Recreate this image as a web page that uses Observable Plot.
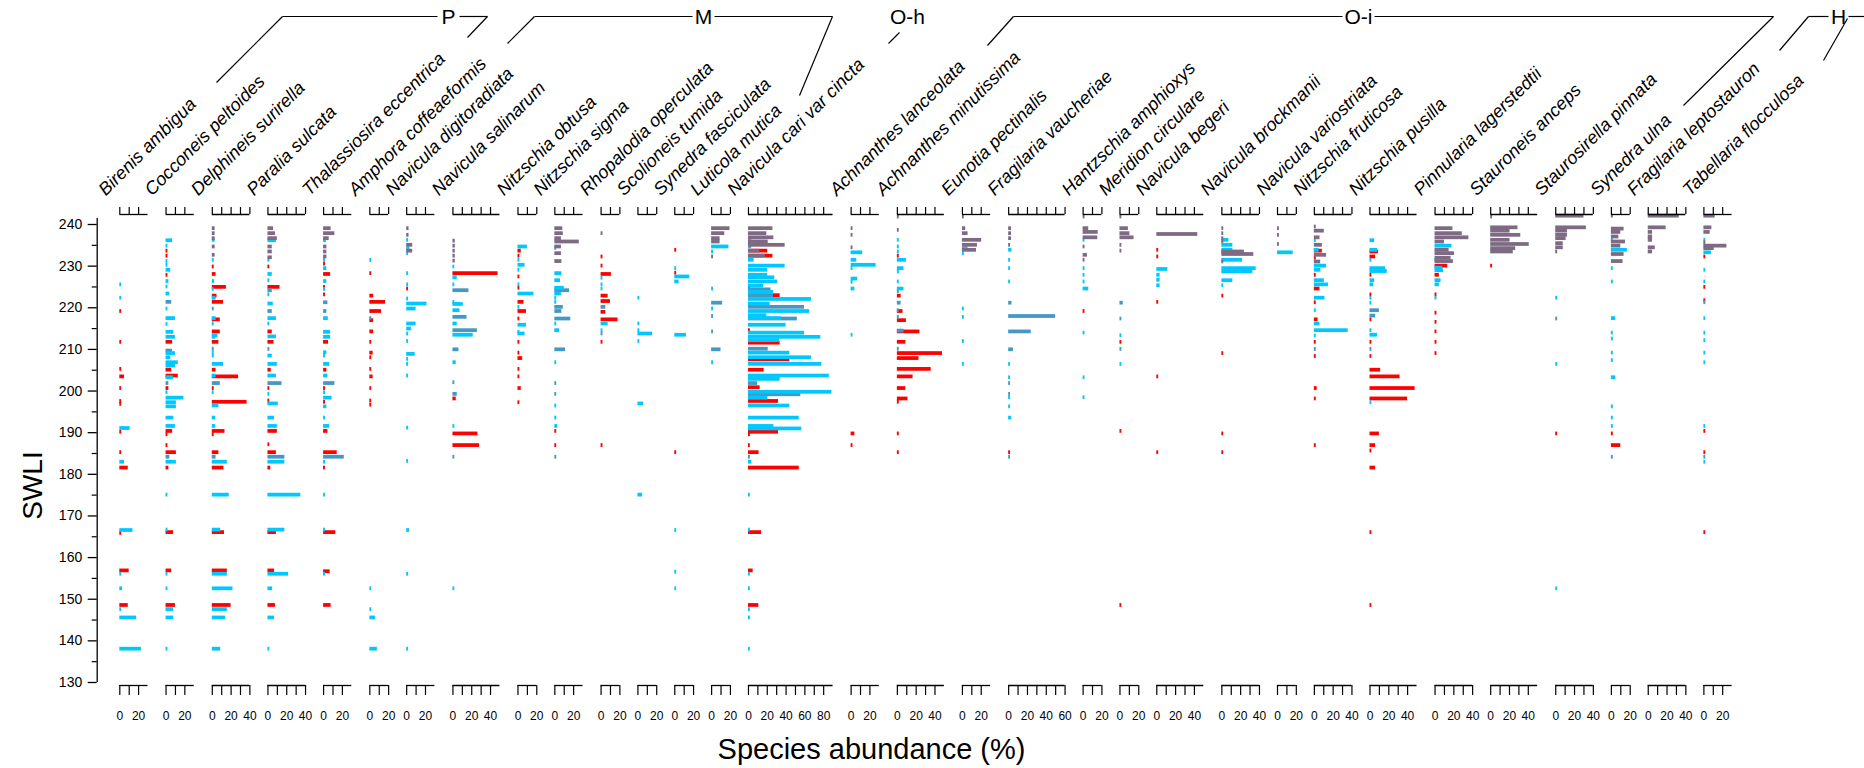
<!DOCTYPE html>
<html><head><meta charset="utf-8">
<script src="https://cdn.jsdelivr.net/npm/d3@7"></script>
<script src="https://cdn.jsdelivr.net/npm/@observablehq/plot@0.6"></script>
<style>body{margin:0;background:#fff}#chart{width:1864px;height:768px;overflow:hidden}</style>
</head><body><div id="chart"></div>
<script>
const species = ["Birenis ambigua","Cocconeis peltoides","Delphineis surirella","Paralia sulcata","Thalassiosira eccentrica","Amphora coffeaeformis","Navicula digitoradiata","Navicula salinarum","Nitzschia obtusa","Nitzschia sigma","Rhopalodia operculata","Scolioneis tumida","Synedra fasciculata","Luticola mutica","Navicula cari var cincta","Achnanthes lanceolata","Achnanthes minutissima","Eunotia pectinalis","Fragilaria vaucheriae","Hantzschia amphioxys","Meridion circulare","Navicula begeri","Navicula brockmanii","Navicula variostriata","Nitzschia fruticosa","Nitzschia pusilla","Pinnularia lagerstedtii","Stauroneis anceps","Staurosirella pinnata","Synedra ulna","Fragilaria leptostauron","Tabellaria flocculosa"];
const axisMax = [30,30,40,40,30,20,30,50,20,30,20,20,20,20,90,30,50,30,60,20,20,50,40,20,40,50,40,50,40,20,40,30];
const swliTicks = [130,140,150,160,170,180,190,200,210,220,230,240];
const groups = ["P","M","O-h","O-i","H"];

// [species index, [[SWLI, abundance %], ...]]
const redBars = [
 [0,[[219.1,2],[211.7,2],[205.2,2],[203.4,5],[200.6,2],[197.5,2],[196.8,2],[190.1,2],[185.2,2],[181.5,9],[165.8,2],[156.8,10],[148.5,9]]],
 [1,[[233.6,2],[232.4,2],[227.8,2],[211.7,7],[205,6],[203.6,13],[200.6,3],[190.3,7],[189.5,2],[186.9,2],[185.2,11],[181.5,3],[166,8],[156.8,6],[148.5,10]]],
 [2,[[229.8,2],[228,4],[224.9,15],[222.8,5],[221.3,12],[217.1,8.5],[214.2,8.5],[211.7,7],[205,4],[203.4,28],[200.6,2],[197.3,37],[190.3,13.5],[189.5,2],[185.2,7],[181.5,12.4],[166,13],[156.8,16],[148.5,20]]],
 [3,[[229.8,2],[224.9,12.8],[214.2,4.6],[211.7,6.4],[205,3.5],[200.6,2],[197.6,2],[190.3,10],[187.1,2],[185.2,9],[181.5,3],[166,9],[156.8,7],[148.5,8]]],
 [4,[[230.5,2],[228,7.5],[224.9,2],[223.1,2],[211.7,5.3],[205,3.5],[200.6,2],[197.3,2],[190.3,4.6],[185.2,14.5],[181.5,2],[166,13],[156.6,7],[148.5,8]]],
 [5,[[228.2,2],[222.8,4],[221.3,16.7],[219.1,12.4],[216.9,4],[214.2,4],[211.7,2],[209.1,3.5],[208,2],[205.2,2],[203.4,3.5],[200.6,2],[197.6,2],[196.6,2]]],
 [6,[[224.5,2]]],
 [7,[[228.2,48],[198.1,3.5],[189.7,26.6],[186.9,28.4]]],
 [8,[[233.6,3.5],[232.4,2],[227.4,2],[224.7,2],[221.3,6.4],[219.1,9],[217.3,2],[211.7,2],[209.1,2],[207.8,5],[205.2,2],[203.4,2],[200.6,3.5],[197.2,2]]],
 [9,[[190.3,2],[186.9,2]]],
 [10,[[232.2,2],[230,2],[228,11],[222.8,7.5],[221.5,10],[218.9,5],[217.1,18],[211.7,2],[186.9,2]]],
 [12,[[233.8,2],[228.3,2],[185.2,2]]],
 [14,[[233.6,20.5],[232.4,26],[224.7,2],[222.9,33.7],[214.5,2],[211.5,33.7],[207.5,44],[205,16.7],[200.8,12.4],[197.5,32],[190.1,32],[189.5,2],[186.9,2],[185.2,11.3],[181.5,54],[166,14],[156.8,5],[148.5,11]]],
 [15,[[189.7,4],[186.9,2]]],
 [16,[[232.4,2],[222.8,4],[219.1,6],[216.9,9.6],[214.2,24],[211.7,9],[209,48],[207.8,23],[205.2,36],[203.4,16.7],[200.6,9],[198.1,11.3],[197.3,2],[189.7,2],[185.2,2]]],
 [18,[[185.2,2]]],
 [19,[[219.1,2]]],
 [20,[[211.7,2],[190.3,2],[148.5,2]]],
 [21,[[233.8,2],[232.2,2],[221.3,2],[203.4,2],[185.2,2]]],
 [22,[[222.8,2],[209,2],[189.7,2],[185.2,2]]],
 [24,[[233.6,8.5],[231.9,2],[227.8,2],[224.5,6],[221.2,2],[217.1,4],[211.7,2],[208.3,2],[200.6,3],[198.1,2],[186.9,2]]],
 [25,[[233.4,9],[232.2,6],[227.8,2],[223.1,2],[217.1,2],[211.7,2],[208.3,2],[205,11.3],[203.4,32],[200.6,48],[198.1,40],[189.7,10],[186.9,6],[185.6,2],[181.5,6],[166,2],[148.5,2]]],
 [26,[[230,13.5],[227.8,4.6],[223.1,2],[218.7,2],[216.5,2],[214.2,2],[211.7,2],[209,2]]],
 [27,[[230,2]]],
 [28,[[189.7,2]]],
 [29,[[189.7,2],[186.9,10]]],
 [31,[[232.2,2],[224.9,2],[221.7,2],[190.3,2],[185.2,2],[166,2]]]
];
const cyanBars = [
 [0,[[225.5,2],[222.3,2],[191,11],[182.9,5],[166.5,14],[156,2],[152.5,3],[147.5,2],[145.5,18],[138,23]]],
 [1,[[236.1,7],[234.8,2],[231.1,2],[230.2,2],[229,5],[226.3,3],[225,2],[223.3,4],[219.7,2],[217.4,10],[216,2],[214.1,8],[212.9,10],[209,10],[208,5],[206.8,13],[206,10],[203.2,8],[199.6,2],[198.3,19],[197.2,11],[196.2,11],[193.5,8],[191.5,10],[182.9,11],[175,2],[166.6,2],[156,2],[152.5,2],[147.5,8],[145.5,8],[138,2]]],
 [2,[[236.2,3],[231.4,2],[226.3,2.5],[224.4,2],[222.3,4],[217.4,4],[216.1,2],[213.3,6],[212.9,4],[209.2,2],[208.4,2],[206.4,12],[203.6,4],[199.6,2],[196.4,7],[193.5,3.5],[191.5,3.5],[182.9,16],[175,18],[166.6,9],[156,16],[152.5,22],[147.5,16],[145.5,14],[138,9]]],
 [3,[[236.1,9],[231.4,2],[228,4.6],[226.5,2],[223.1,2],[220.9,5.7],[217.4,9],[216.1,2],[213,9],[208.4,4.6],[206.4,10],[203.6,9],[199.2,2],[196.9,11],[193.5,7],[191.5,10],[182.9,18],[175,35],[166.6,18],[156,22],[152.5,5],[145.5,7],[138,2]]],
 [4,[[236.1,3],[231.4,2],[229.4,3.5],[226.3,3.5],[224.4,2],[217.4,5],[214.1,7.5],[212.9,7.5],[209.2,3.5],[208.4,2],[206.4,6.4],[203.6,4.6],[199.6,2],[198.3,9],[196.2,3.5],[193.5,2],[191.5,6.4],[182.9,2],[175,2],[166.6,2],[156,2]]],
 [5,[[231.4,2],[152.5,2],[147.5,2],[145.5,6],[138,8]]],
 [6,[[236.2,2],[234.2,3.5],[233,2],[228.2,2],[225.5,2],[222.1,2],[220.9,21.6],[219.7,10],[216.1,10],[214.9,5],[213.7,2],[211.9,2],[208.8,9],[207.6,2],[206.4,2],[203.6,2],[191.1,2],[183.1,2],[166.5,3],[156,2],[138,2]]],
 [7,[[229.8,2],[227.2,4.6],[225.5,2],[221.3,2],[220.8,11],[219.3,7.5],[216.1,4.6],[213.4,21.6],[206.8,3.5],[191.5,2],[152.5,2]]],
 [8,[[234.6,10],[231.4,2],[230.2,7.5],[229,2],[225.5,2],[223.3,17],[220.1,2],[215.8,9],[214.1,2],[213.7,7.5]]],
 [9,[[234.2,2],[228.2,7.5],[226.5,6],[224.7,10],[223.3,7],[222.3,2],[221.3,2],[216.1,2],[214.5,5],[206.8,2],[196.4,2],[193.5,2],[191.5,3]]],
 [10,[[227.1,2],[225.5,2],[224.5,2],[216.1,7.5],[214.5,2]]],
 [11,[[222.3,2],[216.1,2],[214.5,2],[213.7,15.6],[211.9,2],[196.9,6],[175,5]]],
 [12,[[229.4,2],[227.4,16],[226.2,4.6],[213.4,12.4],[166.5,2],[156.5,2],[152.5,2]]],
 [13,[[234.6,18.4],[233.4,2],[224.5,2],[219.7,2],[206.8,2]]],
 [14,[[236.2,3.5],[234.6,3.5],[231.4,6],[230,39],[229,20.5],[227.8,20.5],[227.2,28],[226.2,31],[225.2,16],[223.7,26.6],[222,67],[220.9,23],[219.1,65],[218.1,19.5],[217.4,35],[215.8,40],[213.9,59.6],[212.9,77],[212.1,33],[209.1,44],[208,67],[206.4,78],[203.6,86],[202.8,33.7],[199.7,88.7],[198.3,20.6],[196.4,44],[193.5,54],[191.5,27],[190.9,56.7],[182.9,3.5],[175,2],[166.6,2],[156,2],[152.5,2],[147.5,2],[145.5,2],[138,2]]],
 [15,[[233.2,12.4],[231.4,6],[230.2,26.6],[229.4,2],[226.9,7],[226.1,2],[224.5,4],[213.4,2]]],
 [16,[[236.2,2],[234.6,2],[233.4,2],[231.4,9.6],[229.4,7],[228.6,2],[226.2,2],[224.5,7]]],
 [17,[[234.2,6],[233,2],[219.7,2],[217.7,2],[211.9,2],[206.4,2]]],
 [18,[[233.8,3.5],[231.4,2],[229.4,2],[226.2,2],[206.4,2],[203.2,2],[198.4,2],[196.2,2],[193.5,3]]],
 [19,[[236.2,2],[229.4,2],[227.8,2],[226.2,2],[224.5,6],[213.9,2],[203.2,2],[198.4,2]]],
 [20,[[213.3,2],[206.4,2]]],
 [21,[[229.2,11.7],[227.8,3.5],[226.6,3.5],[225.3,3.5]]],
 [22,[[236.2,7.5],[235,11.7],[233.8,11.7],[231.4,22],[229.4,36.5],[228.6,33],[226.5,11.7],[225.3,2]]],
 [23,[[233.2,16.7]]],
 [24,[[236.1,2],[233.8,5],[230,13],[229,7],[226.5,10.6],[225.5,15],[222.3,11.3],[219.3,2],[216.1,6],[214.5,36],[213.2,2]]],
 [25,[[236.1,5],[233.8,8],[231.4,2],[229.4,16.7],[228.7,18.4],[226.5,5],[225.5,4],[222.3,2],[221.1,2],[214.5,2],[213.4,8],[197.2,2]]],
 [26,[[234.8,18],[231.4,2],[229.5,8],[228.9,9],[226.5,6.4],[225.5,4.6],[222.3,2]]],
 [28,[[222.3,2],[206.4,2],[152.5,2]]],
 [29,[[236.2,2],[233.8,17],[229.4,2],[226.2,2],[217.4,4.6],[213.9,2],[212.5,2],[209.1,2],[207.3,2],[203.2,4.6],[196.2,2],[193.5,2],[191.5,2]]],
 [31,[[236.2,2],[233.2,8],[229,2],[226.2,2],[217.4,2],[213.9,2],[212.1,2],[209.1,2],[206.8,2],[191.5,2],[182.9,2]]]
];
const blueBars = [
 [1,[[221.3,6],[209.6,7],[201.8,3],[184.1,4]]],
 [2,[[219.7,2],[210.05,2],[201.8,8.5],[184.1,4]]],
 [3,[[224.1,4.6],[219.1,4.6],[210,2],[201.8,15],[184.1,18]]],
 [4,[[221.2,4.6],[219.1,3.5],[201.8,12],[184.1,22]]],
 [5,[[217.4,2]]],
 [7,[[224.1,17],[217.7,15],[214.5,26],[209.9,6.4],[202,2],[199.2,4.6],[184.1,2]]],
 [9,[[224.1,15.6],[220.1,9],[219.1,7.5],[217.3,17],[209.9,11.4],[201.8,2],[199.2,2],[184.1,2]]],
 [10,[[220.1,5],[213.7,2]]],
 [13,[[221.1,11.7],[217.9,2],[214.2,2],[209.9,10]]],
 [14,[[224.3,24],[222.9,26.6],[220.1,59.6],[217.3,52],[210.05,21],[201.8,9.6],[199.1,55.7],[184.1,2]]],
 [16,[[223.9,2],[221.1,4],[219.3,2],[217.7,2],[214.4,7],[210.05,2]]],
 [18,[[221.1,3.5],[217.9,50],[214.2,24],[209.9,5],[201.8,2],[199.2,2],[184.1,2]]],
 [20,[[221.1,3.5],[217.3,2],[210,2]]],
 [24,[[210,2]]],
 [25,[[219.3,10],[218,6],[210,2]]],
 [28,[[217.3,2]]],
 [29,[[184.1,2]]],
 [31,[[221.2,2],[184.1,2]]]
];
const purpleBars = [
 [2,[[239,3],[237.8,3],[236.6,3],[234.6,3],[232.6,3]]],
 [3,[[239,6],[237.8,8],[236.6,10],[234.6,4.6],[233.4,4.6],[232,4.6]]],
 [4,[[239,8],[237.8,12],[236.6,6],[234.6,3.5],[233.4,3.5],[232.2,3.5]]],
 [6,[[239,2.5],[237.4,2.5],[235,6.4],[233.6,6.4]]],
 [7,[[236,2.5],[234.8,2.5],[233.6,2.5],[232.4,2.5],[231.2,2.5]]],
 [9,[[239,8.5],[237.8,9],[236.6,7],[235.8,26],[234.6,7],[233,7],[231.1,7.5]]],
 [10,[[237.8,2]]],
 [13,[[239,19.5],[237.8,14],[236.6,9],[235.8,9],[232.2,2]]],
 [14,[[239,26],[237.8,19.5],[236.8,27],[235.8,21],[235,39],[233.6,12],[232.4,18]]],
 [15,[[239,2],[237.4,2],[234.4,2]]],
 [16,[[241.8,2],[238.6,2]]],
 [17,[[241.8,2],[239,3.5],[237.8,6],[236.2,20.5],[235,16],[233.8,15]]],
 [18,[[239,3],[237.8,3],[236.6,3],[235,2]]],
 [19,[[241.8,2],[239,6],[238.1,16],[236.8,15.6],[234.6,2],[232.6,4.6],[231.4,2]]],
 [20,[[241.8,2],[239,9],[237.8,10.6],[236.8,15],[235,2],[233.6,2]]],
 [21,[[237.6,43.6]]],
 [22,[[239,2],[237.8,2],[236.6,2],[235.8,2],[233.4,24],[232.8,34],[231,2]]],
 [23,[[239,2],[237.4,2],[235.2,2]]],
 [24,[[239.4,2],[238.4,10.6],[236.8,6],[235,8.5],[232.6,13],[231,6.7]]],
 [26,[[239,19],[237.8,29],[236.8,36],[235.8,10],[233.8,15],[233,20.6],[231.9,17],[231.1,19.5]]],
 [27,[[241.8,2],[239.2,29],[238.4,20.6],[237.4,32],[236.2,20.6],[235.2,41],[234.2,26.6],[233.4,24]]],
 [28,[[242,30],[239.2,32.6],[238.4,12.4],[237.4,12.4],[236.6,11],[235.4,8],[234.4,8],[233.4,2]]],
 [29,[[242,2],[238.9,13.5],[238.1,10],[237,8],[235.8,15],[234.8,10],[232.8,13.5],[231.1,12.4]]],
 [30,[[242,33],[239.2,19],[238.1,4.6],[237,4.6],[236.2,4.6],[234.4,7.5],[233.4,4.6]]],
 [31,[[242,12],[239.2,8.5],[238.1,6.7],[235.6,2],[234.8,24.5],[234.2,11]]]
];

// ---------- layout ----------
const PX_PER_PCT = 0.94, GAP = 19.2, X0 = 119.3;
const offsets = []; let acc = 0;
axisMax.forEach(m => { offsets.push(acc); acc += m + GAP; });
const total = acc - GAP;
const PX_PER_Y = 4.1636, Y240 = 224;
const pyOf = v => Y240 - (v - 240) * PX_PER_Y;
const yOf = py => 240 - (py - Y240) / PX_PER_Y;      // pixel -> SWLI units
const xOf = px => (px - X0) / PX_PER_PCT;             // pixel -> abundance units

const flat = (arr, color) => arr.flatMap(([i, rows]) => rows.map(([s, v]) => ({i, s, v, color})));
const bars = [...flat(redBars,"#ff0000"), ...flat(blueBars,"#4499c4"), ...flat(cyanBars,"#00c8ff"), ...flat(purpleBars,"#7e6a82")];

const panels = species.map((name, i) => ({name, i, x0: offsets[i], max: axisMax[i]}));
const ticks = panels.flatMap(p => {
  const end = p.max % 20 === 10 ? p.max - 10 : p.max;
  return d3.range(0, end + 1, 10).map(v => ({x: p.x0 + v, v}));
});
const tickLabels = ticks.filter(t => t.v % 20 === 0);

const yTopAxis = yOf(214), yTopTick = yOf(207);
const yBotAxis = yOf(685), yBotTick = yOf(695), yBotLabel = yOf(716);
const yAxisX = xOf(96.7);
const minor = d3.range(135, 241, 10);

// group brackets (pixel layout)
const bracketSegs = [
  [282,16,437,16],[459,16,487,16],[282,16,216,82],[487,16,467,37],
  [534,16,692,16],[714,16,832,16],[534,16,507,43],[832,16,799,95],
  [899,32,888,43],
  [1013,16,1342,16],[1374,16,1773,16],[1013,16,987,45],[1773,16,1683,105],
  [1808,16,1828,16],[1848,16,1864,16],[1808,16,1779,50],[1847,18,1823,60]
].map(([a,b,c,d]) => ({x1: xOf(a), y1: yOf(b), x2: xOf(c), y2: yOf(d)}));
const groupPos = [448, 703, 907, 1358, 1838];

const font = "Liberation Sans, Arial, sans-serif";
const plot = Plot.plot({
  width: 1864, height: 768,
  x: {domain: [0, total], range: [X0, X0 + total * PX_PER_PCT], axis: null},
  y: {domain: [130, 243], range: [pyOf(130), pyOf(243)], axis: null},
  style: {fontFamily: font, background: "#fff", overflow: "visible"},
  marks: [
    Plot.rect(bars, {x1: d => offsets[d.i], x2: d => offsets[d.i] + d.v, y1: d => d.s - 0.45, y2: d => d.s + 0.45, fill: d => d.color}),
    Plot.ruleY(panels, {y: yTopAxis, x1: d => d.x0, x2: d => d.x0 + d.max, stroke: "#000", strokeWidth: 1.3}),
    Plot.ruleX(ticks, {x: "x", y1: yTopAxis, y2: yTopTick, stroke: "#000", strokeWidth: 1.2}),
    Plot.ruleY(panels, {y: yBotAxis, x1: d => d.x0, x2: d => d.x0 + d.max, stroke: "#000", strokeWidth: 1.3}),
    Plot.ruleX(ticks, {x: "x", y1: yBotAxis, y2: yBotTick, stroke: "#000", strokeWidth: 1.2}),
    Plot.text(tickLabels, {x: "x", y: yBotLabel, text: d => String(d.v), fontSize: 12, fill: "#000"}),
    Plot.ruleX([yAxisX], {x: d => d, y1: 130, y2: yOf(218), stroke: "#000", strokeWidth: 1.3}),
    Plot.ruleY(swliTicks, {y: d => d, x1: yAxisX - 9 / PX_PER_PCT, x2: yAxisX, stroke: "#000", strokeWidth: 1.3}),
    Plot.ruleY(minor, {y: d => d, x1: yAxisX - 5 / PX_PER_PCT, x2: yAxisX, stroke: "#000", strokeWidth: 1.2}),
    Plot.text(swliTicks, {y: d => d, x: yAxisX - 15 / PX_PER_PCT, text: d => String(d), textAnchor: "end", fontSize: 14, fill: "#000"}),
    Plot.text(["SWLI"], {x: xOf(33), y: yOf(485), text: d => d, rotate: -90, fontSize: 28, fill: "#000"}),
    Plot.text(["Species abundance (%)"], {x: xOf(871), y: yOf(749), text: d => d, fontSize: 29, fill: "#000"}),
    Plot.text(panels, {x: d => d.x0 - 14 / PX_PER_PCT, y: yOf(196), text: "name", rotate: -45, textAnchor: "start", lineAnchor: "bottom", fontSize: 18, fontStyle: "italic", fill: "#000"}),
    Plot.link(bracketSegs, {x1: "x1", y1: "y1", x2: "x2", y2: "y2", stroke: "#000", strokeWidth: 1.2}),
    Plot.text(groups, {x: (d, i) => xOf(groupPos[i]), y: yOf(17), text: d => d, fontSize: 21, fill: "#000"})
  ]
});
document.getElementById("chart").appendChild(plot);
</script>
</body></html>
